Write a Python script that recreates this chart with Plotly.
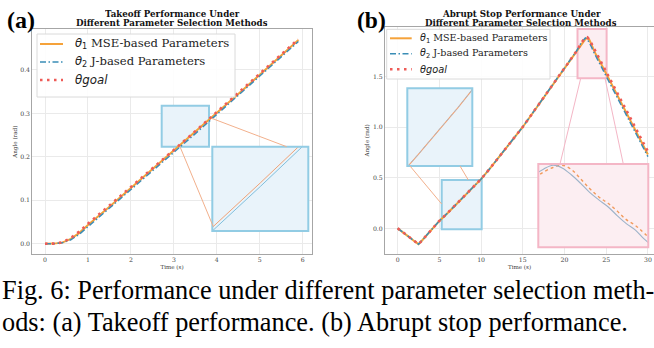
import plotly.graph_objects as go

W, H = 654, 348

# ---------------- data (a) takeoff ----------------
t_a = [0, 0.2, 0.4, 0.6, 0.8, 1.0, 1.5, 2.0, 2.5, 3.0, 3.5, 4.0, 4.5, 5.0, 5.5, 5.9]
goal_a = [0.0, 0.0003, 0.003, 0.013, 0.028, 0.046, 0.088, 0.130, 0.173, 0.216, 0.259, 0.303, 0.347, 0.391, 0.435, 0.471]
mse_a = [0.0, 0.0002, 0.0025, 0.011, 0.025, 0.043, 0.085, 0.128, 0.171, 0.214, 0.257, 0.301, 0.345, 0.389, 0.433, 0.469]
j_a = [0.0, 0.0001, 0.002, 0.009, 0.022, 0.039, 0.081, 0.124, 0.1665, 0.2105, 0.2535, 0.2975, 0.3415, 0.3855, 0.4295, 0.4655]

# ---------------- data (b) abrupt stop ----------------
t_b = [0, 0.5, 1, 1.5, 2, 2.5, 3, 3.5, 4, 5, 6, 7, 8, 9, 10, 11, 12, 13, 14, 15, 16, 17, 18, 19, 20, 21,
       21.5, 22, 22.25, 22.5, 22.75, 23, 23.25, 23.5, 23.75, 24, 24.25, 24.5, 24.75, 25,
       25.5, 26, 27, 28, 29, 30]
j_b = [0.0, -0.030, -0.062, -0.095, -0.128, -0.157, -0.112, -0.066, -0.020, 0.074, 0.153, 0.235, 0.317, 0.400,
       0.488, 0.586, 0.688, 0.790, 0.897, 1.004, 1.120, 1.236, 1.352, 1.468, 1.584, 1.700,
       1.762, 1.835, 1.865, 1.884, 1.870, 1.835, 1.792, 1.745, 1.707, 1.672, 1.627, 1.586, 1.553, 1.505,
       1.425, 1.345, 1.186, 1.027, 0.868, 0.710]
mse_b = [0.0, -0.029, -0.061, -0.094, -0.127, -0.156, -0.113, -0.067, -0.021, 0.073, 0.152, 0.234, 0.316, 0.399,
         0.487, 0.585, 0.687, 0.789, 0.896, 1.003, 1.119, 1.235, 1.351, 1.467, 1.583, 1.698,
         1.752, 1.818, 1.850, 1.872, 1.884, 1.862, 1.815, 1.765, 1.722, 1.690, 1.650, 1.606, 1.576, 1.535,
         1.448, 1.368, 1.208, 1.048, 0.888, 0.730]
goal_b = [0.0, -0.030, -0.062, -0.095, -0.128, -0.157, -0.112, -0.066, -0.020, 0.074, 0.153, 0.235, 0.317, 0.400,
          0.488, 0.586, 0.688, 0.790, 0.897, 1.004, 1.120, 1.236, 1.352, 1.468, 1.584, 1.700,
          1.760, 1.830, 1.862, 1.880, 1.890, 1.865, 1.826, 1.786, 1.747, 1.707, 1.668, 1.628, 1.589, 1.549,
          1.470, 1.391, 1.233, 1.075, 0.917, 0.759]

x_ticks_a = [0, 1, 2, 3, 4, 5, 6]
y_ticks_a = [0.0, 0.1, 0.2, 0.3, 0.4]
x_ticks_b = [0, 5, 10, 15, 20, 25, 30]
y_ticks_b = [0.0, 0.5, 1.0, 1.5]

names = ["<span style='font-family:DejaVu Sans'><i>θ</i><sub>1</sub></span> MSE-based Parameters",
         "<span style='font-family:DejaVu Sans'><i>θ</i><sub>2</sub></span> J-based Parameters",
         "<i>θgoal</i>"]
title_a = ["Takeoff Performance Under", "Different Parameter Selection Methods"]
title_b = ["Abrupt Stop Performance Under", "Different Parameter Selection Methods"]
caption = ["Fig. 6: Performance under different parameter selection meth-",
           "ods: (a) Takeoff performance. (b) Abrupt stop performance."]

# zoom ranges (data units)
src_a = dict(x=[2.717, 3.818], y=[0.2234, 0.3178])
ins_a = dict(x=[3.0, 4.0], y=[0.2105, 0.292])
src_b1 = dict(x=[5.28, 10.07], y=[-0.01, 0.478])
ins_b1 = dict(x=[5.28, 10.07], y=[0.10, 0.50])
src_b2 = dict(x=[21.56, 25.05], y=[1.484, 1.972])
ins_b2 = dict(x=[22.1, 25.1], y=[1.465, 1.89])

# ---------------- styles ----------------
C_MSE = "#F5A23A"
C_J = "#3A8DB6"
C_GOAL = "#EE5B57"
C_BOX = "#92CCE4"
C_BOXFILL = "#E9F3FA"
C_PINK = "#F4B6C6"
C_PINKFILL = "#FCEEF2"
C_CONN = "#F2B08C"
GRID = "#EAEAEA"
SPINE = "#A6A6A6"
TICKF = dict(family="DejaVu Serif", size=6.2, color="#444444")
AXTF = dict(family="DejaVu Serif", size=5.6, color="#333333")
STY = [dict(color=C_MSE, width=2),
       dict(color=C_J, width=1.5, dash="6px,2.5px,1.5px,2.5px"),
       dict(color=C_GOAL, width=2.6, dash="2.5px,4.5px")]


def px(x):
    return x / W


def py(y):
    return 1 - y / H


fig = go.Figure()

# main traces
for xa, ya, tt, series in [("x", "y", t_a, [mse_a, j_a, goal_a]), ("x2", "y2", t_b, [mse_b, j_b, goal_b])]:
    for i, s in enumerate(series):
        fig.add_trace(go.Scatter(x=tt, y=s, mode="lines", name=names[i], xaxis=xa, yaxis=ya,
                                 line=STY[i], showlegend=False))

# inset traces
fig.add_trace(go.Scatter(x=t_a, y=mse_a, mode="lines", xaxis="x3", yaxis="y3", showlegend=False,
                         line=dict(color="#F0A276", width=1)))
fig.add_trace(go.Scatter(x=t_a, y=j_a, mode="lines", xaxis="x3", yaxis="y3", showlegend=False,
                         line=dict(color="#7FBFDD", width=1)))
fig.add_trace(go.Scatter(x=t_b, y=mse_b, mode="lines", xaxis="x4", yaxis="y4", showlegend=False,
                         line=dict(color="#F0A276", width=1.1)))
fig.add_trace(go.Scatter(x=t_b, y=j_b, mode="lines", xaxis="x4", yaxis="y4", showlegend=False,
                         line=dict(color="#A9B9C6", width=1, dash="dot")))
fig.add_trace(go.Scatter(x=t_b, y=mse_b, mode="lines", xaxis="x5", yaxis="y5", showlegend=False,
                         line=dict(color="#F29A5C", width=1.4, dash="dot", shape="spline")))
fig.add_trace(go.Scatter(x=t_b, y=j_b, mode="lines", xaxis="x5", yaxis="y5", showlegend=False,
                         line=dict(color="#9DB3C9", width=1.1, shape="spline")))

main_x = dict(showgrid=True, gridcolor=GRID, gridwidth=0.8, zeroline=False, showline=True,
              linecolor=SPINE, linewidth=1, mirror=True, ticks="", tickfont=TICKF,
              title=dict(text="Time (s)", font=AXTF, standoff=2))
main_y = dict(showgrid=True, gridcolor=GRID, gridwidth=0.8, zeroline=False, showline=True,
              linecolor=SPINE, linewidth=1, ticks="", tickfont=TICKF, tickformat=".1f",
              title=dict(text="Angle (rad)", font=AXTF, standoff=2))
inset_ax = dict(showgrid=False, zeroline=False, showline=False, showticklabels=False, ticks="")

fig.update_layout(
    width=W, height=H, autosize=False,
    margin=dict(l=0, r=0, t=0, b=0),
    paper_bgcolor="white", plot_bgcolor="white",
    showlegend=False,
    xaxis=dict(main_x, domain=[px(32.3), px(311.7)], range=[-0.296, 6.21], tickvals=x_ticks_a, anchor="y"),
    yaxis=dict(main_y, domain=[py(254), py(29.3)], range=[-0.0237, 0.4937], tickvals=y_ticks_a,
               anchor="x", mirror=True),
    xaxis2=dict(main_x, domain=[px(385), 1.0], range=[-1.52, 30.73], tickvals=x_ticks_b, anchor="y2"),
    yaxis2=dict(main_y, domain=[py(254), py(26.7)], range=[-0.254, 1.995], tickvals=y_ticks_b,
                anchor="x2", mirror=False),
    xaxis3=dict(inset_ax, domain=[px(212.3), px(308.3)], range=ins_a["x"], anchor="y3"),
    yaxis3=dict(inset_ax, domain=[py(231), py(146.7)], range=ins_a["y"], anchor="x3"),
    xaxis4=dict(inset_ax, domain=[px(407.3), px(472.3)], range=ins_b1["x"], anchor="y4"),
    yaxis4=dict(inset_ax, domain=[py(166), py(88.3)], range=ins_b1["y"], anchor="x4"),
    xaxis5=dict(inset_ax, domain=[px(538.3), px(648.3)], range=ins_b2["x"], anchor="y5"),
    yaxis5=dict(inset_ax, domain=[py(247.3), py(164)], range=ins_b2["y"], anchor="x5"),
)

shapes = []
# source rectangles
shapes.append(dict(type="rect", xref="x", yref="y", x0=src_a["x"][0], x1=src_a["x"][1],
                   y0=src_a["y"][0], y1=src_a["y"][1], fillcolor=C_BOXFILL,
                   line=dict(color=C_BOX, width=2), layer="between"))
shapes.append(dict(type="rect", xref="x2", yref="y2", x0=src_b1["x"][0], x1=src_b1["x"][1],
                   y0=src_b1["y"][0], y1=src_b1["y"][1], fillcolor=C_BOXFILL,
                   line=dict(color=C_BOX, width=2), layer="between"))
shapes.append(dict(type="rect", xref="x2", yref="y2", x0=src_b2["x"][0], x1=src_b2["x"][1],
                   y0=src_b2["y"][0], y1=src_b2["y"][1], fillcolor=C_PINKFILL,
                   line=dict(color=C_PINK, width=2), layer="between"))
# inset frames
for ax, rng, fc, lc in [("3", ins_a, C_BOXFILL, C_BOX), ("4", ins_b1, C_BOXFILL, C_BOX),
                        ("5", ins_b2, C_PINKFILL, C_PINK)]:
    shapes.append(dict(type="rect", xref=f"x{ax}", yref=f"y{ax}", x0=rng["x"][0], x1=rng["x"][1],
                       y0=rng["y"][0], y1=rng["y"][1], fillcolor=fc, line=dict(width=0), layer="between"))
    shapes.append(dict(type="rect", xref=f"x{ax} domain", yref=f"y{ax} domain", x0=0, x1=1, y0=0, y1=1,
                       fillcolor="rgba(0,0,0,0)", line=dict(color=lc, width=2), layer="above"))
# connector lines (pixel positions)
conns = [((211.7, 118.3), (286.7, 146.7), C_CONN), ((180, 146.7), (213.3, 226.7), C_CONN),
         ((410, 166), (441.7, 204), C_CONN), ((460, 166), (468.3, 180), C_CONN),
         ((580.7, 78.3), (560, 164), C_PINK), ((605, 78.3), (623.3, 164), C_PINK)]
for (xa, ya), (xb, yb), c in conns:
    shapes.append(dict(type="line", xref="paper", yref="paper", x0=px(xa), y0=py(ya), x1=px(xb), y1=py(yb),
                       line=dict(color=c, width=1), layer="above"))

ann = []
# legends (drawn manually to match compact spacing)
legends = [
    dict(box=(37, 34, 235, 97), sx=(40, 63), ys=(44, 62, 80), tx=73, fs=11.6, fg=11.8),
    dict(box=(386.7, 29.3, 550, 79), sx=(390, 411.7), ys=(38.3, 53.8, 69.3), tx=418, fs=9.6, fg=9.8),
]
for lg in legends:
    x0, y0, x1, y1 = lg["box"]
    shapes.append(dict(type="rect", xref="paper", yref="paper", x0=px(x0), x1=px(x1), y0=py(y1), y1=py(y0),
                       fillcolor="rgba(255,255,255,0.88)", line=dict(color="#DADADA", width=1), layer="above"))
    for i, yy in enumerate(lg["ys"]):
        shapes.append(dict(type="line", xref="paper", yref="paper", x0=px(lg["sx"][0]), x1=px(lg["sx"][1]),
                           y0=py(yy), y1=py(yy), line=STY[i], layer="above"))
        fam = "DejaVu Sans" if i == 2 else "DejaVu Serif"
        fsz = lg["fg"] if i == 2 else lg["fs"]
        ann.append(dict(x=px(lg["tx"]), y=py(yy), xref="paper", yref="paper", text=names[i], showarrow=False,
                        font=dict(family=fam, size=fsz, color="#222222"), xanchor="left", yanchor="middle"))
fig.update_layout(shapes=shapes)

TF = dict(family="DejaVu Serif", size=8.7, color="#111111")
for cx, lines in [(172, title_a), (521, title_b)]:
    ann.append(dict(x=px(cx), y=py(14.6), xref="paper", yref="paper", text=f"<b>{lines[0]}</b>",
                    showarrow=False, font=TF, xanchor="center", yanchor="middle", height=8.6))
    ann.append(dict(x=px(cx), y=py(23.2), xref="paper", yref="paper", text=f"<b>{lines[1]}</b>",
                    showarrow=False, font=TF, xanchor="center", yanchor="middle", height=8.6))
ann.append(dict(x=px(21), y=py(20), xref="paper", yref="paper", text="<b>(a)</b>", showarrow=False,
                font=dict(family="Liberation Serif", size=24, color="black"), xanchor="center", yanchor="middle"))
ann.append(dict(x=px(371), y=py(20), xref="paper", yref="paper", text="<b>(b)</b>", showarrow=False,
                font=dict(family="Liberation Serif", size=23.5, color="black"), xanchor="center", yanchor="middle"))
CF = dict(family="Liberation Serif", size=26.3, color="black")
ann.append(dict(x=0, y=py(290), xref="paper", yref="paper", text=caption[0], showarrow=False, font=CF,
                xanchor="left", yanchor="middle"))
ann.append(dict(x=0, y=py(322), xref="paper", yref="paper", text=caption[1], showarrow=False, font=CF,
                xanchor="left", yanchor="middle"))
fig.update_layout(annotations=ann)

fig.write_html("out.html")
